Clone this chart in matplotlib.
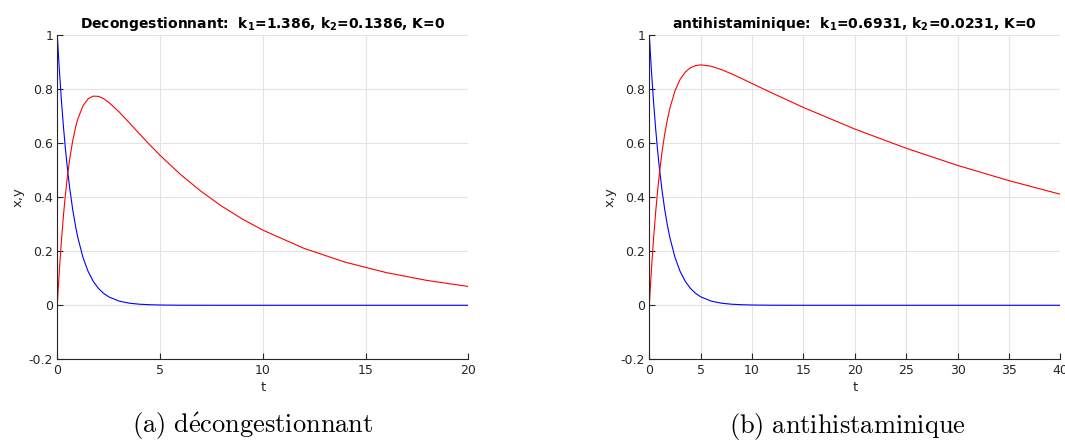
import matplotlib
matplotlib.use("Agg")
import matplotlib.pyplot as plt

# Decongestant: x (blue) and y (red) vs t
t_dec = [0, 0.05, 0.1, 0.2, 0.3, 0.4, 0.5, 0.6, 0.75, 0.9, 1, 1.25, 1.5, 1.75, 2, 2.25,
         2.5, 3, 3.5, 4, 4.5, 5, 6, 7, 8, 9, 10, 12, 14, 16, 18, 20]
x_dec = [1.0, 0.933, 0.8706, 0.7579, 0.6598, 0.5744, 0.5, 0.4353, 0.3536, 0.2872, 0.2501,
         0.1768, 0.125, 0.0884, 0.0625, 0.0442, 0.0313, 0.0156, 0.0078, 0.0039, 0.002,
         0.001, 0.0002, 0.0001, 0.0, 0.0, 0.0, 0.0, 0.0, 0.0, 0.0, 0.0]
y_dec = [0.0, 0.0668, 0.1285, 0.2386, 0.3327, 0.413, 0.4812, 0.5395, 0.6085, 0.6622,
         0.6894, 0.7379, 0.7637, 0.7736, 0.7727, 0.7644, 0.7509, 0.7157, 0.6754, 0.6339,
         0.5934, 0.5545, 0.4835, 0.4211, 0.3666, 0.3192, 0.2779, 0.2106, 0.1596, 0.121,
         0.0917, 0.0695]

# Antihistamine: x (blue) and y (red) vs t
t_anti = [0, 0.1, 0.2, 0.4, 0.6, 0.8, 1, 1.25, 1.5, 1.75, 2, 2.5, 3, 3.5, 4, 4.5, 5, 6,
          7, 8, 9, 10, 12, 15, 20, 25, 30, 35, 40]
x_anti = [1.0, 0.933, 0.8706, 0.7579, 0.6598, 0.5744, 0.5, 0.4204, 0.3536, 0.2973, 0.25,
          0.1768, 0.125, 0.0884, 0.0625, 0.0442, 0.0313, 0.0156, 0.0078, 0.0039, 0.002,
          0.001, 0.0002, 0.0, 0.0, 0.0, 0.0, 0.0, 0.0]
y_anti = [0.0, 0.0669, 0.1291, 0.2409, 0.3377, 0.4213, 0.4936, 0.5719, 0.6335, 0.6855,
          0.7292, 0.7935, 0.8359, 0.8627, 0.8785, 0.8866, 0.8893, 0.8844, 0.8719, 0.8559,
          0.8384, 0.8201, 0.784, 0.7315, 0.6517, 0.5807, 0.5173, 0.4609, 0.4106]

titles = [r"Decongestionnant:  k$_\mathbf{1}$=1.386, k$_\mathbf{2}$=0.1386, K=0",
          r"antihistaminique:  k$_\mathbf{1}$=0.6931, k$_\mathbf{2}$=0.0231, K=0"]
captions = [r"$\mathrm{(a)\ d\acute{e}congestionnant}$",
            r"$\mathrm{(b)\ antihistaminique}$"]
xticks = [[0, 5, 10, 15, 20], [0, 5, 10, 15, 20, 25, 30, 35, 40]]
yticks = [-0.2, 0, 0.2, 0.4, 0.6, 0.8, 1]
ytick_labels = ["-0.2", "0", "0.2", "0.4", "0.6", "0.8", "1"]

plt.rcParams["mathtext.fontset"] = "dejavusans"

fig = plt.figure(figsize=(10.65, 4.42), dpi=100)
positions = [[0.0538, 0.187, 0.386, 0.734], [0.6097, 0.187, 0.386, 0.734]]
data = [(t_dec, x_dec, y_dec), (t_anti, x_anti, y_anti)]
axis_col = "#262626"

for i, (t, xv, yv) in enumerate(data):
    ax = fig.add_axes(positions[i])
    ax.plot(t, xv, color="#0000ff", lw=0.8)
    ax.plot(t, yv, color="#ff0000", lw=0.8)
    ax.set_xlim(xticks[i][0], xticks[i][-1])
    ax.set_ylim(-0.2, 1)
    ax.set_xticks(xticks[i])
    ax.set_yticks(yticks)
    ax.set_yticklabels(ytick_labels)
    ax.grid(True, color="#e3e3e3", lw=0.8)
    ax.set_axisbelow(True)
    for s in ["top", "right"]:
        ax.spines[s].set_visible(False)
    for s in ["left", "bottom"]:
        ax.spines[s].set_color(axis_col)
        ax.spines[s].set_linewidth(0.8)
    ax.tick_params(direction="in", length=4, width=0.8, colors=axis_col,
                   labelsize=9, labelcolor=axis_col, pad=3)
    ax.set_xlabel("t", fontsize=9.5, color=axis_col, labelpad=3)
    ax.set_ylabel("x,y", fontsize=9.5, color=axis_col, labelpad=3)
    ax.set_title(titles[i], fontsize=10, fontweight="bold", pad=5)

plt.rcParams["mathtext.fontset"] = "cm"
fig.text(0.2375, 0.036, captions[0], fontsize=19, ha="center", va="center")
fig.text(0.7955, 0.036, captions[1], fontsize=19, ha="center", va="center")

fig.savefig("out.png", dpi=100)
